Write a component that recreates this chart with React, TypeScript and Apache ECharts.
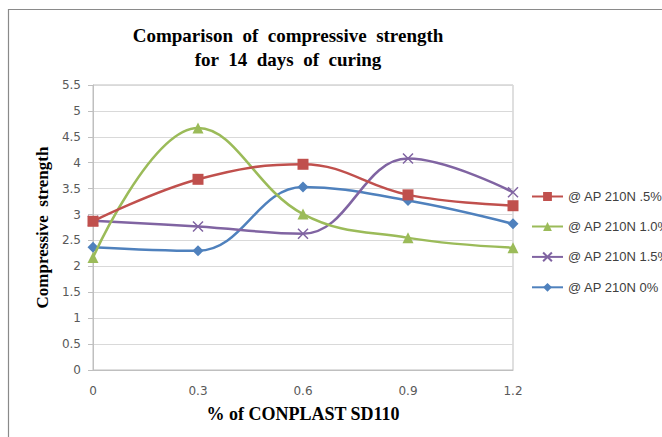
import React, { useEffect, useRef } from "react";
import * as echarts from "echarts";

const categories = ["0", "0.3", "0.6", "0.9", "1.2"];
const seriesNames = ["@ AP 210N .5%", "@ AP 210N 1.0%", "@ AP 210N 1.5%", "@ AP 210N 0%"];
const ap05 = [2.87, 3.68, 3.97, 3.38, 3.17];
const ap10 = [2.17, 4.67, 3.01, 2.55, 2.36];
const ap15 = [2.88, 2.77, 2.63, 4.08, 3.43];
const ap00 = [2.37, 2.30, 3.53, 3.27, 2.82];
const yTicks = [0, 0.5, 1, 1.5, 2, 2.5, 3, 3.5, 4, 4.5, 5, 5.5];

const colors = ["#C0504D", "#9BBB59", "#8064A2", "#4F81BD"];
const CROSS = "path://M0,0L10,10M10,0L0,10";

export default function App() {
  const ref = useRef<HTMLDivElement>(null);
  useEffect(() => {
    if (!ref.current) return;
    const chart = echarts.init(ref.current, undefined, { renderer: "svg" });
    const datas = [ap05, ap10, ap15, ap00];
    const symbols = ["rect", "triangle", CROSS, "diamond"];
    const sizes = [11, 11, 10, 11];
    chart.setOption({
      animation: false,
      backgroundColor: "#ffffff",
      graphic: [
        {
          type: "rect",
          shape: { x: 8.5, y: 9.5, width: 700, height: 500 },
          style: { fill: "none", stroke: "#8a8a8a", lineWidth: 1.2 },
          silent: true,
        },
      ],
      title: {
        text: "Comparison  of  compressive  strength\nfor  14  days  of  curing",
        left: 283,
        top: 18,
        textAlign: "center",
        textStyle: {
          fontFamily: "Liberation Serif",
          fontWeight: "bold",
          fontSize: 19,
          lineHeight: 24,
          color: "#000000",
        },
      },
      legend: {
        orient: "vertical",
        left: 526,
        top: 185,
        itemWidth: 31,
        itemHeight: 11,
        itemGap: 17,
        data: seriesNames,
        textStyle: {
          fontFamily: "Liberation Sans",
          fontSize: 13,
          color: "#404040",
        },
      },
      grid: {
        left: 93,
        right: 149,
        top: 85,
        bottom: 67,
        show: true,
        borderColor: "#bfbfbf",
        borderWidth: 1,
      },
      xAxis: {
        type: "category",
        data: categories,
        boundaryGap: false,
        name: "% of CONPLAST SD110",
        nameLocation: "middle",
        nameGap: 35,
        nameTextStyle: {
          fontFamily: "Liberation Serif",
          fontWeight: "bold",
          fontSize: 18,
          color: "#000000",
        },
        axisLine: { lineStyle: { color: "#bfbfbf" } },
        axisTick: { show: false },
        axisLabel: {
          fontFamily: "DejaVu Sans",
          fontSize: 12,
          color: "#595959",
          margin: 15,
        },
        splitLine: { show: false },
      },
      yAxis: {
        type: "value",
        min: 0,
        max: 5.5,
        interval: 0.5,
        name: "Compressive  strength",
        nameLocation: "middle",
        nameGap: 40,
        nameTextStyle: {
          fontFamily: "Liberation Serif",
          fontWeight: "bold",
          fontSize: 17,
          color: "#000000",
        },
        axisLine: { show: true, lineStyle: { color: "#bfbfbf" } },
        axisTick: { show: true, length: 5, lineStyle: { color: "#bfbfbf" } },
        axisLabel: {
          fontFamily: "DejaVu Sans",
          fontSize: 12,
          color: "#595959",
          margin: 12,
          formatter: (v: number) => (yTicks.includes(v) ? String(v) : ""),
        },
        splitLine: { lineStyle: { color: "#d9d9d9", width: 1 } },
      },
      series: seriesNames.map((name, i) => ({
        name,
        type: "line",
        data: datas[i],
        smooth: 0.4,
        symbol: symbols[i],
        symbolSize: sizes[i],
        showSymbol: true,
        lineStyle: { color: colors[i], width: 2.5 },
        itemStyle:
          i === 2
            ? { color: "none", borderColor: colors[i], borderWidth: 1.5 }
            : { color: colors[i], borderColor: colors[i], borderWidth: 0 },
        z: 10 - i,
      })),
    });
    return () => chart.dispose();
  }, []);
  return (
    <div
      ref={ref}
      style={{ position: "fixed", left: 0, top: 0, width: 662, height: 437 }}
    />
  );
}
